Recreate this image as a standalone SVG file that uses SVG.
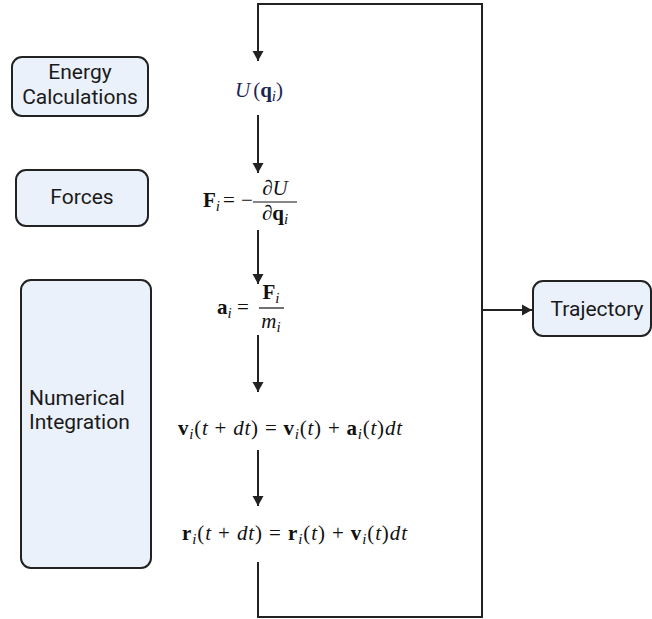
<svg xmlns="http://www.w3.org/2000/svg" width="652" height="619" viewBox="0 0 652 619">
<style>
.box{fill:#eaf1fb;stroke:#222;stroke-width:2}
.lbl{font-family:Roboto,"Liberation Sans",sans-serif;font-size:21px;fill:#1a1a1a}
.m{font-family:"Liberation Serif","Times New Roman",serif;font-size:21px;fill:#111}
.b{font-weight:bold;font-style:normal}
.it{font-style:italic}
.sub{font-size:15px;font-style:italic;font-weight:normal}
.con{fill:none;stroke:#222;stroke-width:2}
</style>
<defs>
<marker id="ah" markerUnits="userSpaceOnUse" markerWidth="12" markerHeight="12" refX="10" refY="6" orient="auto">
<path d="M0,0.5 L10,6 L0,11.5 z" fill="#222"/>
</marker>
</defs>
<rect width="652" height="619" fill="#fff"/>
<g id="connectors">
<path class="con" d="M258,562 V617 H482 V4 H258 V61" marker-end="url(#ah)"/>
<path class="con" d="M482,310 H532" marker-end="url(#ah)"/>
<path class="con" d="M258,115 V173" marker-end="url(#ah)"/>
<path class="con" d="M258,230 V284" marker-end="url(#ah)"/>
<path class="con" d="M258,335 V392" marker-end="url(#ah)"/>
<path class="con" d="M258,450 V506" marker-end="url(#ah)"/>
</g>
<g id="energy">
<rect class="box" x="12" y="57" width="136" height="59" rx="10"/>
<text class="lbl" x="80" y="79" text-anchor="middle">Energy</text>
<text class="lbl" x="80" y="104" text-anchor="middle">Calculations</text>
</g>
<g id="forces">
<rect class="box" x="16" y="170" width="132" height="56" rx="10"/>
<text class="lbl" x="82" y="204" text-anchor="middle">Forces</text>
</g>
<g id="numerical">
<rect class="box" x="21" y="280" width="130" height="288" rx="10"/>
<text class="lbl" x="29" y="405">Numerical</text>
<text class="lbl" x="29" y="429">Integration</text>
</g>
<g id="trajectory">
<rect class="box" x="533" y="281" width="118" height="55" rx="10"/>
<text class="lbl" x="597" y="316" text-anchor="middle">Trajectory</text>
</g>
<g id="eq-u">
<text class="m" x="235" y="97" style="fill:#1c2550"><tspan class="it">U</tspan><tspan dx="3">(</tspan><tspan class="b">q</tspan><tspan class="sub" dy="4">i</tspan><tspan dy="-4">)</tspan></text>
</g>
<g id="eq-f">
<text class="m" x="203" y="207"><tspan class="b">F</tspan><tspan class="sub" dy="4">i</tspan></text>
<text class="m" x="223" y="207">=</text>
<text class="m" x="241" y="207">−</text>
<line x1="253" y1="202" x2="297" y2="202" stroke="#111" stroke-width="1.2"/>
<text class="m" x="275" y="195" text-anchor="middle"><tspan class="it">∂U</tspan></text>
<text class="m" x="275" y="220" text-anchor="middle"><tspan class="it">∂</tspan><tspan class="b">q</tspan><tspan class="sub" dy="4">i</tspan></text>
</g>
<g id="eq-a">
<text class="m" x="217" y="314"><tspan class="b">a</tspan><tspan class="sub" dy="4">i</tspan></text>
<text class="m" x="237" y="314">=</text>
<line x1="259" y1="308" x2="284" y2="308" stroke="#111" stroke-width="1.2"/>
<text class="m" x="271" y="299" text-anchor="middle"><tspan class="b">F</tspan><tspan class="sub" dy="4">i</tspan></text>
<text class="m" x="271" y="328" text-anchor="middle"><tspan class="it">m</tspan><tspan class="sub" dy="4">i</tspan></text>
</g>
<g id="eq-v">
<text class="m" x="178" y="435" textLength="224" lengthAdjust="spacing"><tspan class="b">v</tspan><tspan class="sub" dy="4">i</tspan><tspan dy="-4">(</tspan><tspan class="it">t</tspan> + <tspan class="it">dt</tspan>) = <tspan class="b">v</tspan><tspan class="sub" dy="4">i</tspan><tspan dy="-4">(</tspan><tspan class="it">t</tspan>) + <tspan class="b">a</tspan><tspan class="sub" dy="4">i</tspan><tspan dy="-4">(</tspan><tspan class="it">t</tspan>)<tspan class="it">dt</tspan></text>
</g>
<g id="eq-r">
<text class="m" x="182" y="540" textLength="225" lengthAdjust="spacing"><tspan class="b">r</tspan><tspan class="sub" dy="4">i</tspan><tspan dy="-4">(</tspan><tspan class="it">t</tspan> + <tspan class="it">dt</tspan>) = <tspan class="b">r</tspan><tspan class="sub" dy="4">i</tspan><tspan dy="-4">(</tspan><tspan class="it">t</tspan>) + <tspan class="b">v</tspan><tspan class="sub" dy="4">i</tspan><tspan dy="-4">(</tspan><tspan class="it">t</tspan>)<tspan class="it">dt</tspan></text>
</g>
</svg>
